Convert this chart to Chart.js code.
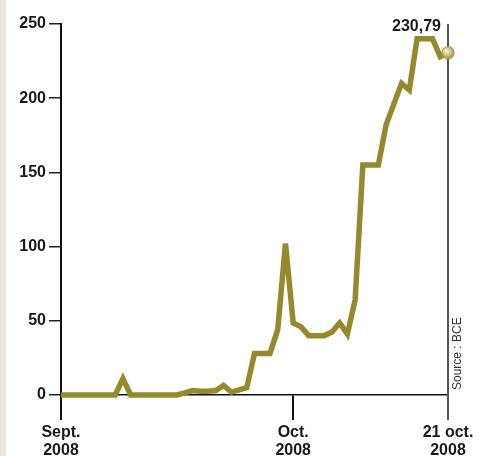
<!DOCTYPE html>
<html>
<head>
<meta charset="utf-8">
<script src="https://cdn.jsdelivr.net/npm/chart.js@4.4.1/dist/chart.umd.min.js"></script>
<style>
  html, body { margin: 0; padding: 0; background: #fff; }
  #wrap { width: 492px; height: 456px; position: relative; }
</style>
</head>
<body>
<div id="wrap"><canvas id="myChart"></canvas></div>
<script>
// days since 1 Sept 2008, one value per day (weekends repeat Friday)
var days = [];
for (var d = 0; d <= 50; d++) days.push(d);

var values = [
  0, 0, 0, 0, 0, 0, 0, 0, 11, 0,
  0, 0, 0, 0, 0, 0, 1.5, 3, 2.5, 2.5,
  3, 6.5, 2, 3.5, 5, 28, 28, 28, 44, 102,
  48.5, 46, 40, 40, 40, 42.5, 48.5, 41, 64, 155,
  155, 155, 182, 196, 210, 205.5, 240, 240, 240, 228,
  230.79
];

var yTicks = [0, 50, 100, 150, 200, 250];
var xTickDays = [0, 30, 50];
var xTickLabels = [['Sept.', '2008'], ['Oct.', '2008'], ['21 oct.', '2008']];

var lineColor = '#96892c';
var textColor = '#1a1a1a';
var font = "'Liberation Sans', Arial, sans-serif";

// little shaded ball for the last value
var ball = document.createElement('canvas');
ball.width = 14; ball.height = 14;
var bctx = ball.getContext('2d');
var grad = bctx.createRadialGradient(5, 5, 0.5, 7, 7, 7);
grad.addColorStop(0, '#fbf7de');
grad.addColorStop(0.45, '#d6c98a');
grad.addColorStop(1, '#938540');
bctx.fillStyle = grad;
bctx.beginPath();
bctx.arc(7, 7, 6.6, 0, Math.PI * 2);
bctx.fill();

var last = values.length - 1;

var extras = {
  id: 'extras',
  beforeDraw: function (chart) {
    var c = chart.ctx;
    c.save();
    c.fillStyle = '#e9e6df';
    c.fillRect(0, 0, 6, chart.height);
    c.restore();
  },
  beforeDatasetsDraw: function (chart) {
    var c = chart.ctx, area = chart.chartArea;
    var x = chart.scales.x.getPixelForValue(days[last]);
    c.save();
    c.strokeStyle = '#555';
    c.lineWidth = 2;
    c.beginPath();
    c.moveTo(x, area.top);
    c.lineTo(x, area.bottom);
    c.stroke();
    c.restore();
  },
  afterDatasetsDraw: function (chart) {
    var c = chart.ctx, area = chart.chartArea;
    var pt = chart.getDatasetMeta(0).data[last];
    c.save();
    c.fillStyle = textColor;
    c.font = 'bold 16px ' + font;
    c.textAlign = 'right';
    c.textBaseline = 'alphabetic';
    c.fillText(values[last].toFixed(2).replace('.', ','), pt.x - 7, pt.y - 22);

    c.font = '12px ' + font;
    c.fillStyle = '#333';
    c.translate(area.right + 10, area.bottom - 5);
    c.rotate(-Math.PI / 2);
    c.textAlign = 'left';
    c.textBaseline = 'middle';
    c.fillText('Source : BCE', 0, 0);
    c.restore();
  }
};

var ctx = document.getElementById('myChart').getContext('2d');
var chart = new Chart(ctx, {
  type: 'line',
  data: {
    labels: days,
    datasets: [{
      data: days.map(function (d, i) { return { x: d, y: values[i] }; }),
      borderColor: lineColor,
      borderWidth: 5.5,
      tension: 0,
      pointRadius: function (c) { return c.dataIndex === last ? 7 : 0; },
      pointStyle: function (c) { return c.dataIndex === last ? ball : 'circle'; },
      pointBorderWidth: 0,
      clip: false
    }]
  },
  options: {
    responsive: true,
    maintainAspectRatio: false,
    animation: false,
    events: [],
    layout: { padding: { top: 24, right: 44, left: 0, bottom: 0 } },
    plugins: { legend: { display: false }, tooltip: { enabled: false } },
    scales: {
      x: {
        type: 'linear',
        min: 0,
        max: 50,
        afterFit: function (s) { s.height = 61; },
        afterBuildTicks: function (s) {
          s.ticks = xTickDays.map(function (v) { return { value: v }; });
        },
        ticks: {
          autoSkip: false,
          maxRotation: 0,
          padding: 3,
          color: textColor,
          font: { family: font, size: 16, weight: 'bold', lineHeight: 1.15 },
          callback: function (v) {
            var i = xTickDays.indexOf(v);
            return i >= 0 ? xTickLabels[i] : '';
          }
        },
        grid: {
          drawOnChartArea: false,
          drawTicks: true,
          tickLength: 25,
          lineWidth: 2,
          color: function (c) { return c.tick && c.tick.value === 50 ? '#555' : '#111'; }
        },
        border: { display: true, color: '#111', width: 1.5 }
      },
      y: {
        min: 0,
        max: 250,
        afterFit: function (s) { s.width = 61; },
        afterBuildTicks: function (s) {
          s.ticks = yTicks.map(function (v) { return { value: v }; });
        },
        ticks: {
          padding: 3,
          color: textColor,
          font: { family: font, size: 16, weight: 'bold' }
        },
        grid: {
          drawOnChartArea: false,
          drawTicks: true,
          tickLength: 12,
          lineWidth: 1.5,
          color: '#222'
        },
        border: { display: true, color: '#111', width: 2 }
      }
    }
  },
  plugins: [extras]
});
</script>
</body>
</html>
